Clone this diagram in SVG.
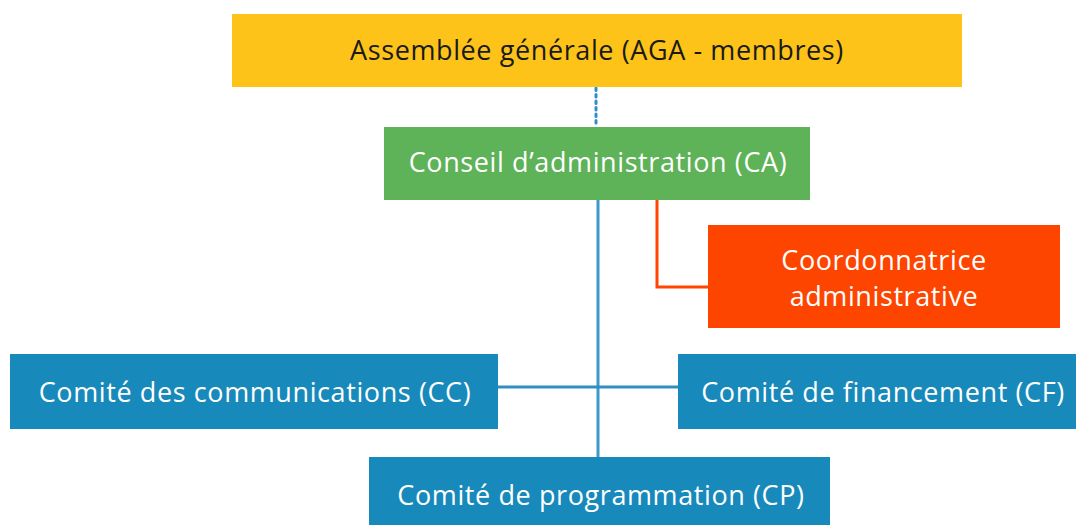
<svg xmlns="http://www.w3.org/2000/svg" width="1076" height="525" viewBox="0 0 1076 525">
<style>
.t{font-family:"Open Sans","Liberation Sans",sans-serif;font-size:27px;letter-spacing:0.6px;text-anchor:middle}
.w{fill:#ffffff}
.k{fill:#1a1a1a}
.blue{fill:#1789BA}
.ln{fill:none;stroke-width:3}
</style>
<rect width="1076" height="525" fill="#ffffff"/>
<g id="connectors">
<line x1="596" y1="88" x2="596" y2="127" stroke="#2E8FC7" stroke-width="3" stroke-dasharray="2.5 4" stroke-linecap="round"/>
<line class="ln" x1="598" y1="200" x2="598" y2="457" stroke="#3A9BCB"/>
<line class="ln" x1="498" y1="387" x2="678" y2="387" stroke="#2E8FC0"/>
<polyline class="ln" points="657,200 657,287 708,287" stroke="#FF4500"/>
</g>
<g id="aga">
<rect x="232" y="14" width="730" height="73" fill="#FDC319"/>
<text class="t k" x="597" y="60">Assemblée générale (AGA - membres)</text>
</g>
<g id="ca">
<rect x="384" y="127" width="426" height="73" fill="#5EB257"/>
<text class="t w" x="598" y="172">Conseil d’administration (CA)</text>
</g>
<g id="coord">
<rect x="708" y="225" width="352" height="103" fill="#FE4500"/>
<text class="t w" x="884" y="270">Coordonnatrice</text>
<text class="t w" x="884" y="306">administrative</text>
</g>
<g id="cc">
<rect class="blue" x="10" y="354" width="488" height="75"/>
<text class="t w" x="255" y="402">Comité des communications (CC)</text>
</g>
<g id="cf">
<rect class="blue" x="678" y="354" width="398" height="75"/>
<text class="t w" x="883" y="402">Comité de financement (CF)</text>
</g>
<g id="cp">
<rect class="blue" x="369" y="457" width="461" height="70"/>
<text class="t w" x="601" y="505">Comité de programmation (CP)</text>
</g>
</svg>
